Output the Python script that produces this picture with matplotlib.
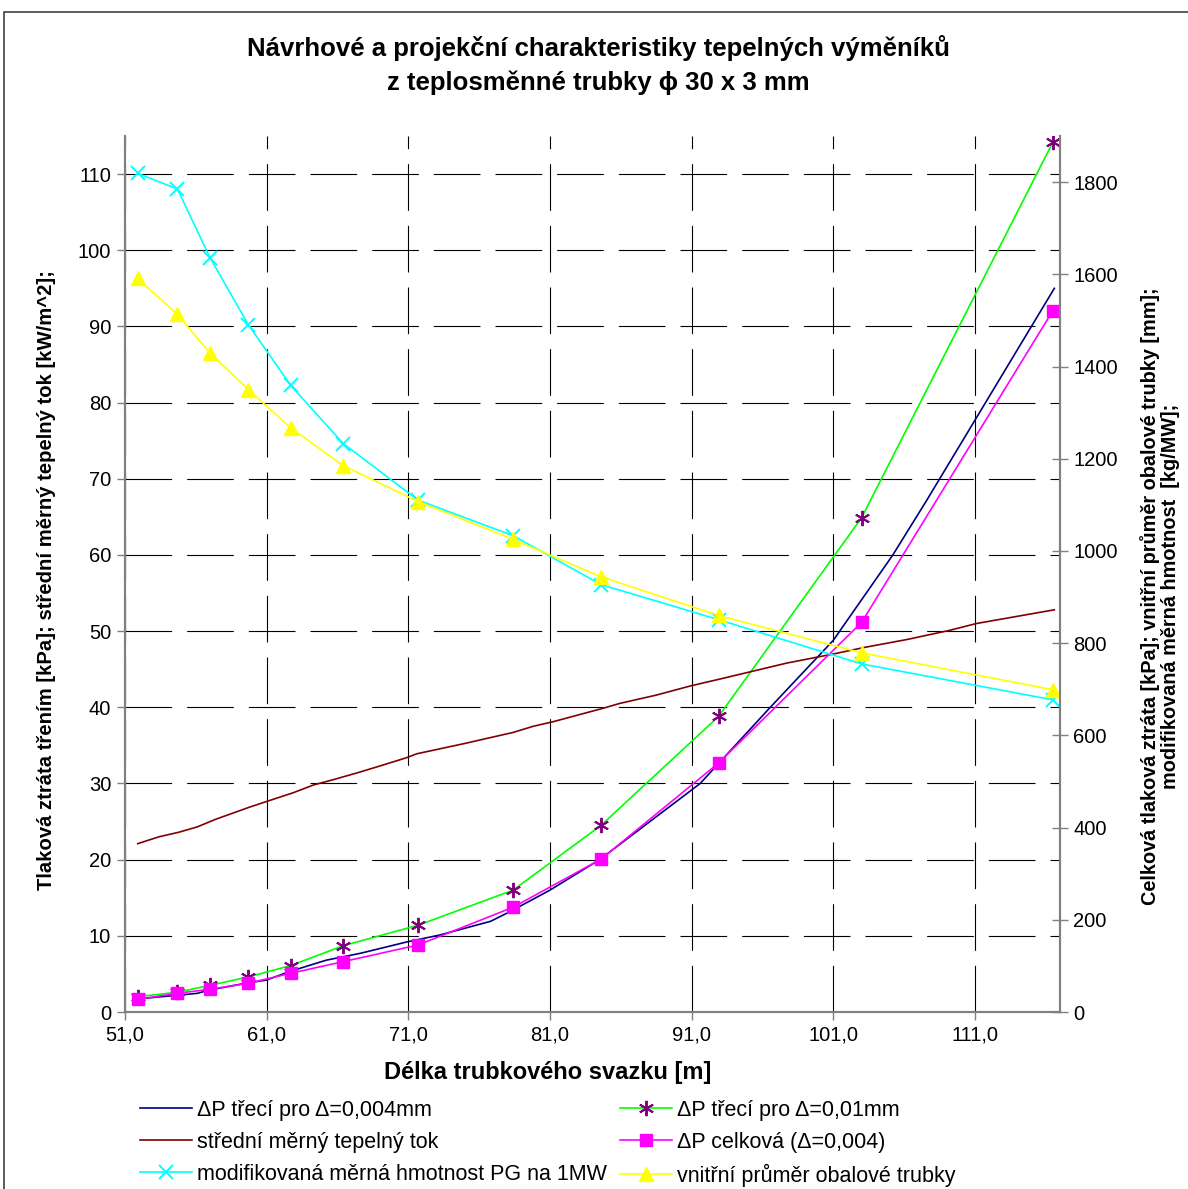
import matplotlib
matplotlib.use('Agg')

import numpy as np
import matplotlib.pyplot as plt
from matplotlib.lines import Line2D
from matplotlib.patches import Rectangle
from matplotlib.ticker import FuncFormatter, MultipleLocator, FixedLocator

plt.rcParams['font.family'] = ['Liberation Sans', 'DejaVu Sans']

# delka svazku v bodech s markery
x_mark = [51.9, 54.7, 57.0, 59.7, 62.7, 66.4, 71.7, 78.4, 84.6, 92.9, 103.0, 116.5]
dp_001 = [2.0, 2.6, 3.5, 4.6, 6.1, 8.7, 11.4, 16.0, 24.5, 38.8, 64.9, 114.2]
dp_celk = [27.6, 40.6, 49.3, 62.3, 84.0, 109.2, 145.5, 227.3, 331.5, 540.0, 845.2, 1521.3]
hmotnost = [1819, 1785, 1636, 1491, 1359, 1233, 1110, 1033, 927, 851, 755, 677]
prumer = [1591, 1513, 1429, 1350, 1267, 1185, 1107, 1025, 944, 860, 779, 699]

# trecí ztrata pro 0,004 mm (bez markeru)
x_dp004 = [51.8, 54.7, 56.1, 57.0, 59.6, 61.0, 62.6, 65.2, 67.6, 70.9, 73.2, 76.8,
           78.2, 81.0, 84.5, 91.6, 96.5, 101.0, 105.2, 107.6, 116.6]
dp_004 = [1.7, 2.2, 2.45, 2.9, 3.8, 4.2, 5.3, 6.8, 7.7, 9.2, 10.1, 11.9,
          13.2, 16.0, 20.0, 30.0, 39.9, 48.8, 60.0, 67.2, 95.0]

# stredni merny tepelny tok
x_flux = [51.9, 53.4, 54.8, 56.1, 57.4, 59.8, 61.1, 62.9, 64.3, 65.7, 67.4, 69.0,
          70.9, 71.6, 75.1, 76.5, 78.4, 79.8, 81.2, 84.8, 85.9, 88.5, 90.9, 93.2,
          97.7, 101.0, 103.3, 106.2, 109.2, 111.1, 116.6]
flux = [22.1, 23.0, 23.6, 24.3, 25.3, 26.9, 27.7, 28.8, 29.8, 30.5, 31.4, 32.3,
        33.4, 33.9, 35.3, 35.9, 36.7, 37.5, 38.1, 39.9, 40.5, 41.6, 42.8, 43.8,
        45.8, 47.0, 47.9, 48.9, 50.1, 51.0, 52.8]

labels = ['ΔP třecí pro Δ=0,004mm', 'střední měrný tepelný tok',
          'modifikovaná měrná hmotnost PG na 1MW', 'ΔP třecí pro Δ=0,01mm',
          'ΔP celková (Δ=0,004)', 'vnitřní průměr obalové trubky']

W, H = 1188, 1189
fig = plt.figure(figsize=(W / 100, H / 100), dpi=100)
ax = fig.add_axes([125 / W, 1 - 1012 / H, (1060 - 125) / W, (1012 - 136) / H])
ax2 = ax.twinx()

star = (6, 2, 0)
lw = 1.2

ax.plot(x_dp004, dp_004, color='#000080', lw=lw)
ax.plot(x_mark, dp_001, color='#00ff00', lw=lw, marker=star, ms=11,
        mec='#800080', mew=1.4)
ax.plot(x_flux, flux, color='#800000', lw=lw)

ax2.plot(x_mark, dp_celk, color='#ff00ff', lw=lw, marker='s', ms=8)
ax2.plot(x_mark, hmotnost, color='#00ffff', lw=lw, marker='x', ms=10, mew=1.4)
ax2.plot(x_mark, prumer, color='#ffff00', lw=lw, marker='^', ms=10)

ax.set_xlim(51, 117)
ax.set_ylim(0, 115)
ax2.set_ylim(0, 1900)

ax.xaxis.set_major_locator(FixedLocator(np.arange(51, 117, 10)))
ax.yaxis.set_major_locator(MultipleLocator(10))
ax2.yaxis.set_major_locator(MultipleLocator(200))
ax.xaxis.set_major_formatter(FuncFormatter(lambda v, p: f"{v:.1f}".replace('.', ',')))

grid_ls = (0, (42, 13.5))
ax.grid(True, color='black', lw=0.8, linestyle=grid_ls)

for a in (ax, ax2):
    a.spines['top'].set_visible(False)
    for s in ('left', 'right', 'bottom'):
        a.spines[s].set_color('#808080')
        a.spines[s].set_linewidth(1.5)

ax.tick_params(axis='both', direction='out', length=6, width=1, color='#808080',
               labelsize=14.5, pad=4)
ax2.tick_params(axis='y', direction='inout', length=11, width=1, color='#808080',
                labelsize=14.5, pad=4)

fig.text(548 / W, 1 - 1072 / H, 'Délka trubkového svazku [m]', fontsize=17,
         fontweight='bold', ha='center', va='center')
fig.text(47 / W, 1 - 580 / H,
         'Tlaková ztráta třením [kPa]; střední měrný tepelný tok [kW/m^2];',
         fontsize=14.6, fontweight='bold', rotation=90, ha='center', va='center')
fig.text(1160 / W, 1 - 596 / H,
         'Celková tlaková ztráta [kPa]; vnitřní průměr obalové trubky [mm];\n'
         'modifikovaná měrná hmotnost  [kg/MW];',
         fontsize=14.3, fontweight='bold', rotation=90, ha='center', va='center',
         multialignment='center', linespacing=1.05)

fig.text(598 / W, 1 - 48 / H, 'Návrhové a projekční charakteristiky tepelných výměníků',
         fontsize=18.5, fontweight='bold', ha='center', va='center')
fig.text(598 / W, 1 - 83 / H, 'z teplosměnné trubky ϕ 30 x 3 mm',
         fontsize=18.5, fontweight='bold', ha='center', va='center')

handles = [
    Line2D([], [], color='#000080', lw=lw),
    Line2D([], [], color='#800000', lw=lw),
    Line2D([], [], color='#00ffff', lw=lw, marker='x', ms=10, mew=1.4),
    Line2D([], [], color='#00ff00', lw=lw, marker=star, ms=11, mec='#800080', mew=1.4),
    Line2D([], [], color='#ff00ff', lw=lw, marker='s', ms=8),
    Line2D([], [], color='#ffff00', lw=lw, marker='^', ms=10),
]
fig.legend(handles, labels, ncol=2, loc='upper left',
           bbox_to_anchor=(140 / W, 1 - 1100 / H), frameon=False, fontsize=15.5,
           handlelength=2.4, handletextpad=0.25, columnspacing=0.6,
           labelspacing=0.5, borderpad=0, borderaxespad=0)

fig.patches.append(Rectangle((4 / W, -0.02), 1.05, 1 - 12 / H + 0.02,
                             transform=fig.transFigure, fill=False,
                             edgecolor='#404040', lw=1.2))

fig.savefig('out.png', dpi=100)
